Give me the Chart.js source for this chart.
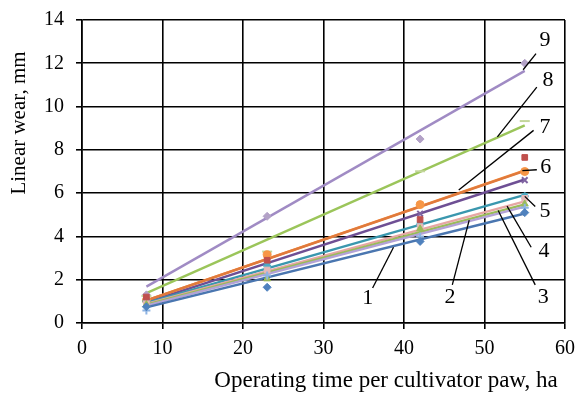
<!DOCTYPE html>
<html>
<head>
<meta charset="utf-8">
<script src="https://cdn.jsdelivr.net/npm/chart.js@4.4.1/dist/chart.umd.min.js"></script>
<style>
  html, body { margin: 0; padding: 0; background: #fff; }
  #wrap { width: 578px; height: 396px; }
</style>
</head>
<body>
<div id="wrap"><canvas id="wear"></canvas></div>
<script>
// operating time, ha
const hours = [8, 23, 42, 55];
const trendHours = [8, 55];

// measured linear wear, mm
const wear1 = [0.75, 1.65, 3.77, 5.10];
const wear2 = [0.58, 2.20, 4.00, 5.33];
const wear3 = [0.85, 2.04, 4.35, 5.50];
const wear4 = [0.90, 2.45, 4.45, 5.76];
const wear5 = [1.00, 2.65, 4.55, 5.86];
const wear6 = [1.05, 3.15, 5.47, 7.00];
const wear7 = [1.20, 2.90, 4.78, 7.65];
const wear8 = [1.00, 2.84, 5.05, 6.60];
const wear9 = [1.25, 3.30, 7.01, 9.33];
const wear10 = [1.30, 4.93, 8.50, 12.00];

// trend line values at 8 and 55 ha
const trend1 = [0.72, 5.06];
const trend2 = [0.80, 5.38];
const trend3 = [0.85, 5.48];
const trend4 = [0.88, 5.62];
const trend5 = [0.93, 5.92];
const trend6 = [1.05, 7.05];
const trend7 = [1.04, 7.03];
const trend8 = [0.95, 6.63];
const trend9 = [1.38, 9.13];
const trend10 = [1.68, 11.65];

const xTicks = [0, 10, 20, 30, 40, 50, 60];
const yTicks = [0, 2, 4, 6, 8, 10, 12, 14];

// series look: marker colour, marker shape, trend colour (draw order = list order)
const series = [
  { v: wear7,  t: trend7,  mc: '#C0504D', ms: 'rect',      lc: '#E07A3C' },
  { v: wear1,  t: trend1,  mc: '#4F81BD', ms: 'rectRot',   lc: '#4A76B0' },
  { v: wear2,  t: trend2,  mc: '#8EB4E3', ms: 'cross',     lc: '#B3A2D6' },
  { v: wear3,  t: trend3,  mc: '#9BBB59', ms: 'triangle',  lc: '#9BBB59' },
  { v: wear4,  t: trend4,  mc: '#E6B9B8', ms: 'rect',      lc: '#E6A6A4' },
  { v: wear5,  t: trend5,  mc: '#4BACC6', ms: 'star',      lc: '#3A97AE' },
  { v: wear8,  t: trend8,  mc: '#8064A2', ms: 'crossRot',  lc: '#6E4F94' },
  { v: wear6,  t: trend6,  mc: '#F79646', ms: 'circle',    lc: '#F58A3A' },
  { v: wear9,  t: trend9,  mc: '#C3D69B', ms: 'line',      lc: '#9BC55A' },
  { v: wear10, t: trend10, mc: '#B3A2C7', ms: 'rectRot',   lc: '#A08BC4' }
];

// number callouts: text spot and leader line, in data units
const callouts = [
  { n: '9', tx: 57.5, ty: 13.05, a: [56.4, 12.45], b: [54.8, 11.7] },
  { n: '8', tx: 57.9, ty: 11.2,  a: [56.5, 10.9],  b: [51.6, 8.6] },
  { n: '7', tx: 57.5, ty: 9.05,  a: [56.1, 8.9],   b: [46.8, 6.15] },
  { n: '6', tx: 57.6, ty: 7.2,   a: [56.5, 7.08],  b: [54.7, 7.04] },
  { n: '5', tx: 57.5, ty: 5.15,  a: [56.3, 5.38],  b: [55.0, 5.85] },
  { n: '4', tx: 57.4, ty: 3.3,   a: [55.8, 3.5],   b: [52.8, 5.4] },
  { n: '3', tx: 57.3, ty: 1.2,   a: [56.3, 1.76],  b: [51.7, 5.2] },
  { n: '2', tx: 45.7, ty: 1.2,   a: [46.0, 1.76],  b: [48.1, 4.75] },
  { n: '1', tx: 35.5, ty: 1.15,  a: [36.1, 1.62],  b: [38.7, 3.5] }
];

const datasets = [];
series.forEach(s => {
  datasets.push({
    data: trendHours.map((x, i) => ({ x: x, y: s.t[i] })),
    showLine: true,
    borderColor: s.lc,
    borderWidth: 2.4,
    pointRadius: 0,
    order: 2
  });
});
series.forEach(s => {
  datasets.push({
    data: hours.map((x, i) => ({ x: x, y: s.v[i] })),
    showLine: false,
    pointStyle: s.ms,
    pointRadius: s.ms === 'line' ? 5 : 4,
    backgroundColor: s.mc,
    borderColor: s.mc,
    borderWidth: (s.ms === 'cross' || s.ms === 'crossRot' || s.ms === 'star' || s.ms === 'line') ? 2 : 1,
    order: 1
  });
});

const serif = "'Liberation Serif', 'DejaVu Serif', serif";

const extras = {
  id: 'extras',
  afterDraw(chart) {
    const ctx = chart.ctx;
    const xs = chart.scales.x, ys = chart.scales.y;
    ctx.save();
    ctx.strokeStyle = '#000';
    ctx.lineWidth = 1.3;
    ctx.fillStyle = '#000';
    ctx.font = '22px ' + serif;
    ctx.textAlign = 'center';
    ctx.textBaseline = 'middle';
    callouts.forEach(c => {
      ctx.beginPath();
      ctx.moveTo(xs.getPixelForValue(c.a[0]), ys.getPixelForValue(c.a[1]));
      ctx.lineTo(xs.getPixelForValue(c.b[0]), ys.getPixelForValue(c.b[1]));
      ctx.stroke();
      ctx.fillText(c.n, xs.getPixelForValue(c.tx), ys.getPixelForValue(c.ty));
    });
    // axis titles
    ctx.font = '23px ' + serif;
    ctx.fillText('Operating time per cultivator paw, ha', 386, 381);
    ctx.font = '21px ' + serif;
    ctx.translate(19, 123);
    ctx.rotate(-Math.PI / 2);
    ctx.fillText('Linear wear, mm', 0, 0);
    ctx.restore();
  }
};

new Chart(document.getElementById('wear'), {
  type: 'scatter',
  data: { datasets: datasets },
  options: {
    responsive: true,
    maintainAspectRatio: false,
    animation: false,
    layout: { padding: { left: 0, right: 13, top: 20, bottom: 0 } },
    plugins: {
      legend: { display: false },
      tooltip: { enabled: false }
    },
    scales: {
      x: {
        type: 'linear',
        min: xTicks[0],
        max: xTicks[xTicks.length - 1],
        afterBuildTicks: axis => { axis.ticks = xTicks.map(v => ({ value: v })); },
        afterFit: axis => { axis.height = 73; axis.paddingLeft = 0; axis.paddingRight = 0; },
        grid: { color: '#000', lineWidth: 1.6, tickLength: 6, tickColor: '#000' },
        border: { color: '#000', width: 1.6 },
        ticks: { color: '#000', padding: 8, maxRotation: 0, font: { family: serif, size: 20 } }
      },
      y: {
        type: 'linear',
        min: yTicks[0],
        max: yTicks[yTicks.length - 1],
        afterBuildTicks: axis => { axis.ticks = yTicks.map(v => ({ value: v })); },
        afterFit: axis => { axis.width = 82; axis.paddingTop = 0; axis.paddingBottom = 0; },
        grid: { color: '#000', lineWidth: 1.6, tickLength: 6, tickColor: '#000' },
        border: { color: '#000', width: 1.6 },
        ticks: { color: '#000', padding: 12, font: { family: serif, size: 20 } }
      }
    }
  },
  plugins: [extras]
});
</script>
</body>
</html>
